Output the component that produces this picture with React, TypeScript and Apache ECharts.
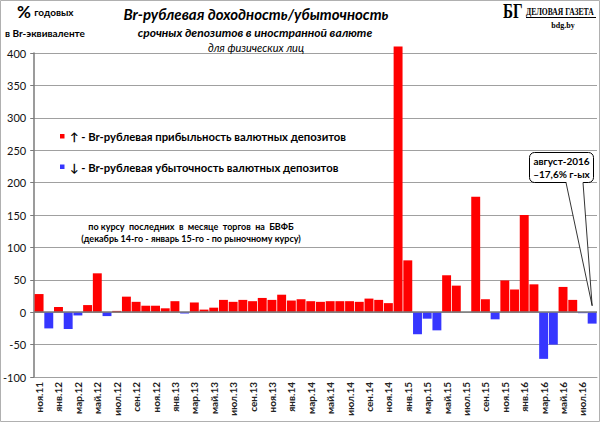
import React, { useEffect, useRef } from 'react';
import * as echarts from 'echarts';

const categories = [
  'ноя.11', 'дек.11',
  'янв.12', 'фев.12', 'мар.12', 'апр.12', 'май.12', 'июн.12', 'июл.12', 'авг.12', 'сен.12', 'окт.12', 'ноя.12', 'дек.12',
  'янв.13', 'фев.13', 'мар.13', 'апр.13', 'май.13', 'июн.13', 'июл.13', 'авг.13', 'сен.13', 'окт.13', 'ноя.13', 'дек.13',
  'янв.14', 'фев.14', 'мар.14', 'апр.14', 'май.14', 'июн.14', 'июл.14', 'авг.14', 'сен.14', 'окт.14', 'ноя.14', 'дек.14',
  'янв.15', 'фев.15', 'мар.15', 'апр.15', 'май.15', 'июн.15', 'июл.15', 'авг.15', 'сен.15', 'окт.15', 'ноя.15', 'дек.15',
  'янв.16', 'фев.16', 'мар.16', 'апр.16', 'май.16', 'июн.16', 'июл.16', 'авг.16',
];

const values = [
  28, -25,
  8, -26, -5, 11, 60, -6, 2, 24, 16, 10, 10, 6,
  17, -2, 15, 4, 7, 19, 16, 19, 17, 22, 19, 27,
  18, 20, 17, 16, 17, 17, 17, 16, 21, 19, 14, 410,
  80, -34, -10, -28, 57, 41, 0, 178, 20, -11, 49, 35,
  150, 43, -72, -50, 39, 19, -1.5, -17.6,
];

const yMin = -100;
const yMax = 400;
const yInterval = 50;

const titleLines = [
  'Br-рублевая доходность/убыточность',
  'срочных депозитов в иностранной валюте',
  'для физических лиц',
];
const legendLines = [
  '↑ - Br-рублевая прибыльность валютных депозитов',
  '↓ - Br-рублевая убыточность валютных депозитов',
];
const noteLines = [
  'по курсу  последних  в  месяце  торгов  на  БВФБ',
  '(декабрь 14-го - январь 15-го - по рыночному курсу)',
];
const calloutLines = ['август-2016', '–17,6% г-ых'];

const RED = '#ff0000';
const BLUE = '#3636ff';
const FONT = 'Lato, "Open Sans", sans-serif';
const SERIF = '"Liberation Serif", "DejaVu Serif", serif';

export default function App() {
  const ref = useRef<HTMLDivElement>(null);

  useEffect(() => {
    document.body.style.margin = '0';
    const chart = echarts.init(ref.current as HTMLDivElement, null, { renderer: 'svg' });

    const option: any = {
      animation: false,
      backgroundColor: '#ffffff',
      grid: { left: 33, right: 3, top: 53, bottom: 47, containLabel: false },
      xAxis: {
        type: 'category',
        data: categories,
        axisLine: { onZero: false, lineStyle: { color: '#a0a0a0', width: 1 } },
        axisTick: { show: false },
        axisLabel: {
          interval: 1,
          rotate: 90,
          margin: 5,
          fontFamily: FONT,
          fontSize: 10,
          fontWeight: 'bold',
          color: '#222',
        },
        splitLine: { show: false },
      },
      yAxis: {
        type: 'value',
        min: yMin,
        max: yMax,
        interval: yInterval,
        axisLine: { show: true, lineStyle: { color: '#7a7a7a', width: 1.5 } },
        axisTick: { show: true, length: 4, lineStyle: { color: '#7a7a7a' } },
        axisLabel: { fontFamily: FONT, fontSize: 11, color: '#111', margin: 8 },
        splitLine: { show: true, lineStyle: { color: '#a0a0a0', width: 1 } },
      },
      series: [
        {
          type: 'bar',
          clip: false,
          barCategoryGap: '8%',
          data: values.map((v) => ({
            value: v,
            itemStyle: { color: v >= 0 ? RED : BLUE },
          })),
          markLine: {
            silent: true,
            symbol: 'none',
            label: { show: false },
            lineStyle: { color: '#7a7a7a', width: 1.5, type: 'solid' },
            data: [{ yAxis: 0 }],
          },
        },
      ],
    };
    chart.setOption(option);

    const tip = chart.convertToPixel({ gridIndex: 0 }, [categories.length - 1, 10]) as number[];
    const boxX = 529;
    const boxY = 152;
    const boxW = 64;
    const boxH = 30;

    const graphic: any[] = [
      {
        type: 'rect',
        shape: { x: 0.5, y: 0.5, width: 599, height: 421 },
        style: { fill: 'none', stroke: '#b0b0b0', lineWidth: 1 },
        silent: true,
      },
      {
        type: 'text',
        x: 17,
        y: 20,
        style: {
          text: '{big|%} {small|годовых}',
          textVerticalAlign: 'bottom',
          rich: {
            big: { fontFamily: FONT, fontSize: 17, fontWeight: 'bold', fill: '#000' },
            small: { fontFamily: FONT, fontSize: 10, fontWeight: 'bold', fill: '#000' },
          },
        },
      },
      {
        type: 'text',
        x: 5,
        y: 33,
        style: {
          text: 'в Br-эквиваленте',
          fontFamily: FONT,
          fontSize: 10,
          fontWeight: 'bold',
          fill: '#000',
          textVerticalAlign: 'middle',
        },
      },
      {
        type: 'text',
        x: 256,
        y: 14,
        style: {
          text: titleLines[0],
          fontFamily: FONT,
          fontSize: 15,
          fontWeight: 'bold',
          fontStyle: 'italic',
          fill: '#000',
          textAlign: 'center',
          textVerticalAlign: 'middle',
        },
      },
      {
        type: 'text',
        x: 255,
        y: 32,
        style: {
          text: titleLines[1],
          fontFamily: FONT,
          fontSize: 12,
          fontWeight: 'bold',
          fontStyle: 'italic',
          fill: '#000',
          textAlign: 'center',
          textVerticalAlign: 'middle',
        },
      },
      {
        type: 'text',
        x: 256,
        y: 47,
        style: {
          text: titleLines[2],
          fontFamily: FONT,
          fontSize: 11,
          fontStyle: 'italic',
          fill: '#000',
          textAlign: 'center',
          textVerticalAlign: 'middle',
        },
      },
      {
        type: 'text',
        x: 503,
        y: 11,
        scaleX: 0.72,
        style: {
          text: 'БГ',
          fontFamily: SERIF,
          fontSize: 21,
          fontWeight: 'bold',
          fill: '#000',
          textVerticalAlign: 'middle',
        },
      },
      {
        type: 'text',
        x: 526,
        y: 12,
        scaleX: 0.76,
        style: {
          text: 'ДЕЛОВАЯ ГАЗЕТА',
          fontFamily: SERIF,
          fontSize: 10,
          fontWeight: 'bold',
          fill: '#000',
          textVerticalAlign: 'middle',
        },
      },
      {
        type: 'line',
        shape: { x1: 526, y1: 17.5, x2: 596, y2: 17.5 },
        style: { stroke: '#000', lineWidth: 1 },
      },
      {
        type: 'text',
        x: 563,
        y: 25,
        style: {
          text: 'bdg.by',
          fontFamily: SERIF,
          fontSize: 8,
          fontWeight: 'bold',
          fill: '#000',
          textAlign: 'center',
          textVerticalAlign: 'middle',
        },
      },
      {
        type: 'rect',
        shape: { x: 60, y: 134, width: 4.5, height: 4.5 },
        style: { fill: RED },
      },
      {
        type: 'text',
        x: 70,
        y: 136.5,
        style: {
          text: legendLines[0],
          fontFamily: FONT,
          fontSize: 11.3,
          fontWeight: 'bold',
          fill: '#000',
          textVerticalAlign: 'middle',
        },
      },
      {
        type: 'rect',
        shape: { x: 60, y: 164.5, width: 4.5, height: 4.5 },
        style: { fill: BLUE },
      },
      {
        type: 'text',
        x: 70,
        y: 167,
        style: {
          text: legendLines[1],
          fontFamily: FONT,
          fontSize: 11.3,
          fontWeight: 'bold',
          fill: '#000',
          textVerticalAlign: 'middle',
        },
      },
      {
        type: 'text',
        x: 191,
        y: 226,
        style: {
          text: noteLines[0],
          fontFamily: FONT,
          fontSize: 9,
          fontWeight: 'bold',
          fill: '#000',
          textAlign: 'center',
          textVerticalAlign: 'middle',
        },
      },
      {
        type: 'text',
        x: 191,
        y: 238,
        style: {
          text: noteLines[1],
          fontFamily: FONT,
          fontSize: 9,
          fontWeight: 'bold',
          fill: '#000',
          textAlign: 'center',
          textVerticalAlign: 'middle',
        },
      },
      {
        type: 'rect',
        shape: { x: boxX + 0.5, y: boxY + 0.5, width: boxW, height: boxH, r: 5 },
        style: { fill: '#fff', stroke: '#000', lineWidth: 1 },
      },
      {
        type: 'polygon',
        shape: { points: [[566, boxY + boxH - 1], [583, boxY + boxH - 1], [tip[0], tip[1]]] },
        style: { fill: '#fff', stroke: 'none' },
      },
      {
        type: 'line',
        shape: { x1: 566, y1: boxY + boxH + 0.5, x2: tip[0], y2: tip[1] },
        style: { stroke: '#000', lineWidth: 0.8 },
      },
      {
        type: 'line',
        shape: { x1: 583, y1: boxY + boxH + 0.5, x2: tip[0], y2: tip[1] },
        style: { stroke: '#000', lineWidth: 0.8 },
      },
      {
        type: 'text',
        x: boxX + boxW / 2 + 0.5,
        y: boxY + 9,
        style: {
          text: calloutLines[0],
          fontFamily: FONT,
          fontSize: 10,
          fontWeight: 'bold',
          fill: '#000',
          textAlign: 'center',
          textVerticalAlign: 'middle',
        },
      },
      {
        type: 'text',
        x: boxX + boxW / 2 + 0.5,
        y: boxY + 22,
        style: {
          text: calloutLines[1],
          fontFamily: FONT,
          fontSize: 10,
          fontWeight: 'bold',
          fill: '#000',
          textAlign: 'center',
          textVerticalAlign: 'middle',
        },
      },
    ];
    chart.setOption({ graphic });

    return () => chart.dispose();
  }, []);

  return (
    <div
      ref={ref}
      style={{ position: 'fixed', left: 0, top: 0, width: 600, height: 424 }}
    />
  );
}
